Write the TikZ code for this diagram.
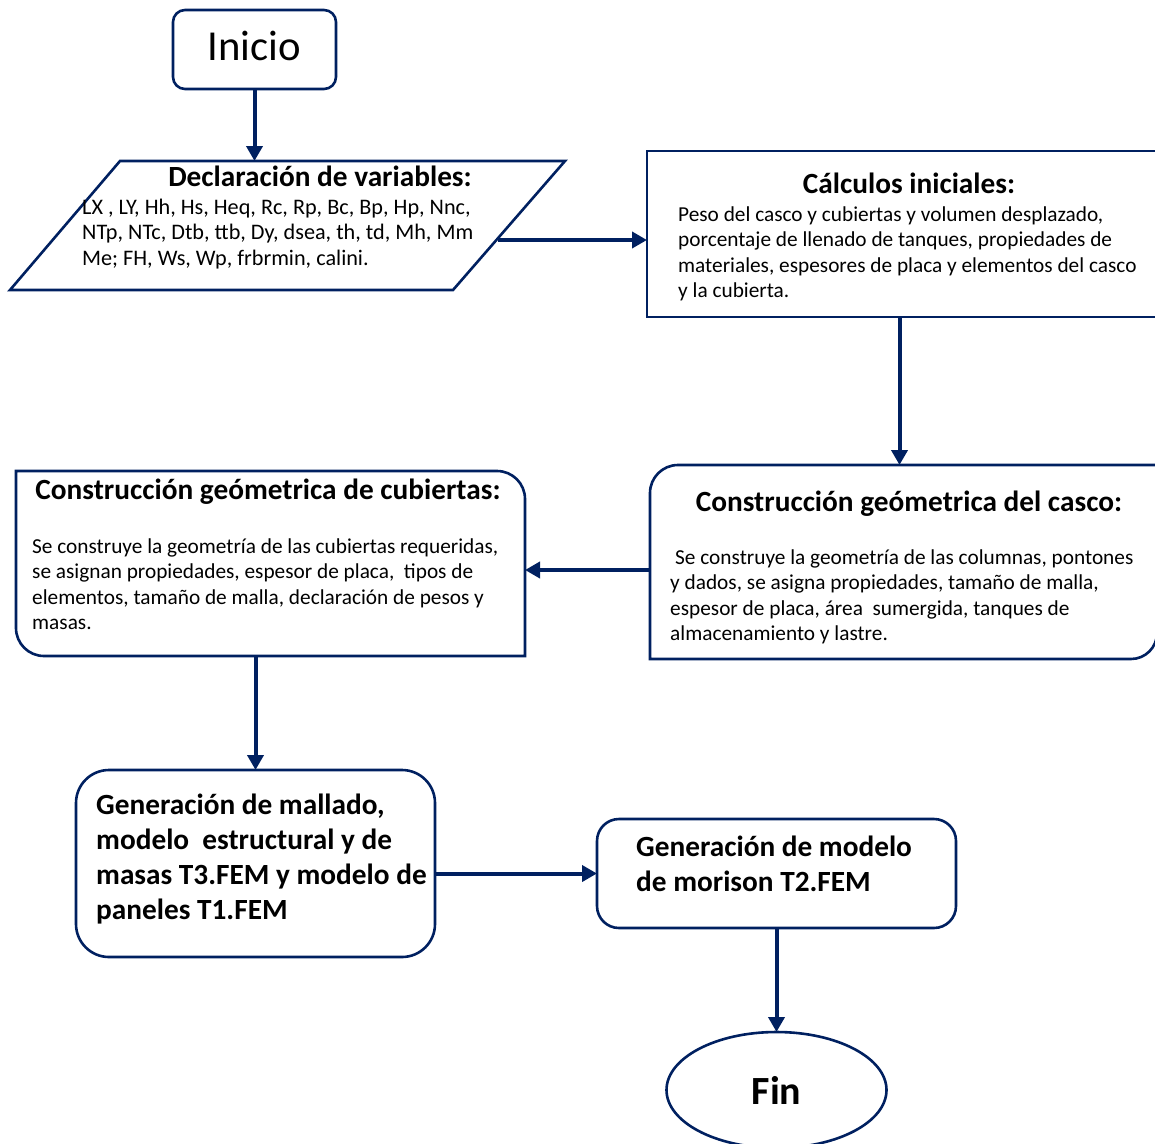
\documentclass[tikz,border=0pt]{standalone}
\usepackage{fontspec}
\setmainfont{Carlito}
\usetikzlibrary{arrows.meta,shapes.geometric,calc}
\definecolor{navy}{RGB}{0,32,96}
\tikzset{
  outline/.style={draw=navy, line width=2.6pt},
  conn/.style={draw=navy, line width=4pt, -{Triangle[length=15pt,width=16pt]}},
  frame/.style={inner sep=0pt, outer sep=0pt},
  % multi-line texts are placed by the baseline of their last line
  bodytext/.style={inner sep=0pt, align=left, anchor=base west,
    font=\fontsize{21.3}{25.5}\selectfont},
  titletext/.style={inner sep=0pt, anchor=base,
    font=\fontsize{29.3}{35}\selectfont\bfseries},
  boldtext/.style={inner sep=0pt, align=left, anchor=base west,
    font=\fontsize{29.3}{35}\selectfont\bfseries},
}
\begin{document}
\begin{tikzpicture}[x=1pt,y=-1pt]
\useasboundingbox (0,0) rectangle (1155,1143);
\clip (0,0) rectangle (1155,1143);

% --- start terminal
\node[frame, outline, rounded corners=12pt, minimum width=163pt, minimum height=79pt] (inicio) at (254.5,49.5) {};
\node[inner sep=0pt, anchor=base, font=\fontsize{42.7}{50}\selectfont] (inicioText) at (254.5,60) {Inicio};

% --- input parallelogram
\coordinate (declTL) at (120,161);
\coordinate (declTR) at (565,161);
\coordinate (declBR) at (453,290);
\coordinate (declBL) at (10,290);
\draw[outline] (declTL) -- (declTR) -- (declBR) -- (declBL) -- cycle;
\coordinate (declTop) at (254.5,161);
\coordinate (declRight) at (498,240);
\node[titletext] (declTitle) at (320,186) {Declaración de variables:};
\node[bodytext, font=\fontsize{22.2}{25.5}\selectfont] (declBody) at (82,265) {LX , LY, Hh, Hs, Heq, Rc, Rp, Bc, Bp, Hp, Nnc,\\
NTp, NTc, Dtb, ttb, Dy, dsea, th, td, Mh, Mm\\
Me; FH, Ws, Wp, frbrmin, calini.};

% --- initial calculations
\node[frame, outline, minimum width=513pt, minimum height=166pt, anchor=north west] (calc) at (647,151) {};
\node[titletext] (calcTitle) at (909,193.5) {Cálculos iniciales:};
\node[bodytext] (calcBody) at (678,297.5) {Peso del casco y cubiertas y volumen desplazado,\\
porcentaje de llenado de tanques, propiedades de\\
materiales, espesores de placa y elementos del casco\\
y la cubierta.};

% --- hull geometry
\node[frame, minimum width=507pt, minimum height=194pt, anchor=north west] (casco) at (650,465) {};
\draw[outline] (casco.south west) -- ([yshift=-28pt]casco.north west)
  arc[start angle=180, end angle=90, radius=28pt] -- (casco.north east)
  -- ([yshift=26pt]casco.south east) arc[start angle=0, end angle=-90, radius=26pt] -- cycle;
\node[titletext] (cascoTitle) at (909,511) {Construcción geómetrica del casco:};
\node[bodytext] (cascoBody) at (670,640.5) {\hspace*{5pt}Se construye la geometría de las columnas, pontones\\
y dados, se asigna propiedades, tamaño de malla,\\
espesor de placa, área\ \ sumergida, tanques de\\
almacenamiento y lastre.};

% --- deck geometry
\node[frame, minimum width=509pt, minimum height=185pt, anchor=north west] (cub) at (16,471) {};
\draw[outline] (cub.north west) -- ([xshift=-28pt]cub.north east)
  arc[start angle=90, end angle=0, radius=28pt] -- (cub.south east)
  -- ([xshift=28pt]cub.south west) arc[start angle=270, end angle=180, radius=28pt] -- cycle;
\node[titletext] (cubTitle) at (268,499) {Construcción geómetrica de cubiertas:};
\node[bodytext] (cubBody) at (32,629.5) {Se construye la geometría de las cubiertas requeridas,\\
se asignan propiedades, espesor de placa,\ \ tipos de\\
elementos, tamaño de malla, declaración de pesos y\\
masas.};

% --- mesh generation
\node[frame, outline, rounded corners=33pt, minimum width=359pt, minimum height=187pt] (mall) at (255.5,863.5) {};
\node[boldtext] (mallText) at (96,919) {Generación de mallado,\\
modelo\ \ estructural y de\\
masas T3.FEM y modelo de\\
paneles T1.FEM};

% --- Morison model
\node[frame, outline, rounded corners=22pt, minimum width=359pt, minimum height=109pt] (mor) at (776.5,873.5) {};
\node[boldtext] (morText) at (636,891) {Generación de modelo\\
de morison T2.FEM};

% --- end terminal
\node[frame, outline, ellipse, minimum width=220pt, minimum height=116pt,
      font=\fontsize{40}{46}\selectfont\bfseries] (fin) at (776.5,1090) {Fin};

% --- connectors
\draw[conn] (inicio.south) -- (declTop);
\draw[conn] (declRight) -- (declRight -| calc.west);
\draw[conn] ([xshift=-4pt]calc.south) -- ([xshift=-4pt]calc.south |- casco.north);
\draw[conn] ([yshift=-8pt]casco.west) -- ([yshift=-8pt]casco.west -| cub.east);
\draw[conn] (cub.south -| mall.north) -- (mall.north);
\draw[conn] (mall.east |- mor.west) -- (mor.west);
\draw[conn] (mor.south) -- (fin.north);
\end{tikzpicture}
\end{document}
